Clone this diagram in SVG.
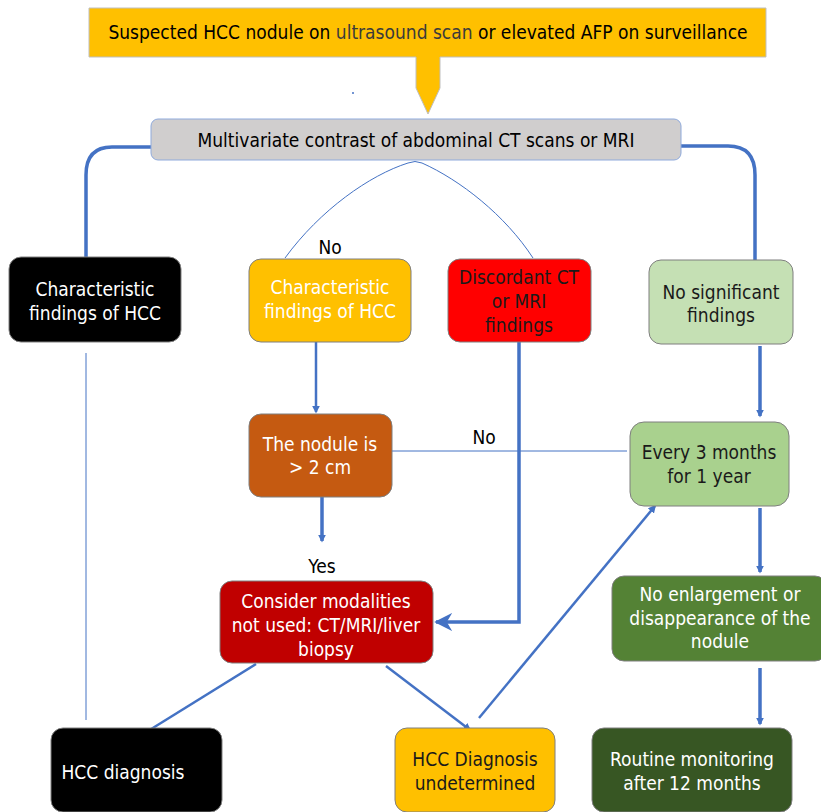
<svg xmlns="http://www.w3.org/2000/svg" width="821" height="812" viewBox="0 0 821 812">
<defs>
<style>
text{font-family:"DejaVu Sans Condensed","DejaVu Sans","Liberation Sans",sans-serif;font-stretch:condensed;font-size:19px;text-anchor:middle}
.w{fill:#fff}.k{fill:#000}.d{fill:#1a1a1a}
.box{stroke:#7f7f7f;stroke-width:1}
.c{fill:none;stroke:#4472C4}
.t1{stroke-width:1}.t2{stroke-width:2.5}.t3{stroke-width:3.5}
</style>
<marker id="ah" viewBox="0 0 10 10" refX="8" refY="5" markerWidth="8" markerHeight="8" markerUnits="userSpaceOnUse" orient="auto"><path d="M0,0L10,5L0,10z" fill="#4472C4"/></marker>
<marker id="big" viewBox="0 0 20 20" refX="18" refY="10" markerWidth="18" markerHeight="18" markerUnits="userSpaceOnUse" orient="auto"><path d="M20,10L0,0L6,10L0,20z" fill="#4472C4"/></marker>
</defs>
<rect width="821" height="812" fill="#fff"/>

<g id="connectors">
<path class="c t3" d="M151,147H112Q86,147 86,175V258"/>
<path class="c t3" d="M681,146H728Q755,146 755,175V262"/>
<path class="c t1" d="M285,258C320,210 370,175 408,163Q415,160 422,163C460,180 505,215 533,258"/>
<path class="c t2" d="M316,342V412" marker-end="url(#ah)"/>
<path class="c t3" d="M760,346V416" marker-end="url(#ah)"/>
<path class="c t1" d="M392,451H627"/>
<path class="c t3" d="M519,342V622H436" marker-end="url(#big)"/>
<path class="c t3" d="M322,497V541" marker-end="url(#ah)"/>
<path class="c t3" d="M760,508V572" marker-end="url(#ah)"/>
<path class="c t3" d="M760,668V724" marker-end="url(#ah)"/>
<path class="c t2" d="M479,718L655,506" marker-end="url(#ah)"/>
<path class="c t2" d="M256,664L148,731"/>
<path class="c t2" d="M386,666L470,730" marker-end="url(#ah)"/>
<path class="c t1" d="M86,353V720"/>
<circle cx="353" cy="93" r="1" fill="#4472C4"/>
<text x="330" y="254" class="k" font-size="16">No</text>
<text x="484" y="444" class="k" font-size="16">No</text>
<text x="322" y="573" class="k" font-size="16">Yes</text>
</g>

<g id="n-start">
<path d="M89,8H766V57H440V88L428,114L416,88V57H89Z" fill="#FFC000" stroke="#bfbfbf" stroke-width="1"/>
<text x="428" y="39"><tspan class="k">Suspected HCC nodule on </tspan><tspan fill="#3b3b3b">ultrasound scan</tspan><tspan class="k"> or elevated AFP on surveillance</tspan></text>
</g>

<g id="n-ct">
<rect x="151" y="119" width="530" height="41" rx="7" fill="#D0CECE" stroke="#8FAADC" stroke-width="1"/>
<text x="416" y="147" class="k">Multivariate contrast of abdominal CT scans or MRI</text>
</g>

<g id="n-char1">
<rect x="9" y="257" width="172" height="85" rx="12" fill="#000" class="box"/>
<text x="95" y="296" class="w">Characteristic</text>
<text x="95" y="320" class="w">findings of HCC</text>
</g>

<g id="n-char2">
<rect x="249" y="259" width="162" height="83" rx="12" fill="#FFC000" class="box"/>
<text x="330" y="294" class="w">Characteristic</text>
<text x="330" y="318" class="w">findings of HCC</text>
</g>

<g id="n-disc">
<rect x="448" y="259" width="143" height="83" rx="12" fill="#FF0000" class="box"/>
<text x="519" y="284" class="d">Discordant CT</text>
<text x="519" y="308" class="d">or MRI</text>
<text x="519" y="332" class="d">findings</text>
</g>

<g id="n-nosig">
<rect x="649" y="260" width="144" height="84" rx="12" fill="#C5E0B4" class="box"/>
<text x="721" y="299" class="d">No significant</text>
<text x="721" y="322" class="d">findings</text>
</g>

<g id="n-nodule">
<rect x="249" y="414" width="143" height="83" rx="12" fill="#C55A11" class="box"/>
<text x="320" y="451" class="w">The nodule is</text>
<text x="320" y="474" class="w">&gt; 2 cm</text>
</g>

<g id="n-every">
<rect x="630" y="422" width="159" height="84" rx="14" fill="#A9D18E" class="box"/>
<text x="709" y="459" class="d">Every 3 months</text>
<text x="709" y="483" class="d">for 1 year</text>
</g>

<g id="n-consider">
<rect x="220" y="581" width="213" height="82" rx="12" fill="#C00000" class="box"/>
<text x="326" y="608" class="w">Consider modalities</text>
<text x="326" y="632" class="w">not used: CT/MRI/liver</text>
<text x="326" y="656" class="w">biopsy</text>
</g>

<g id="n-noenl">
<rect x="612" y="576" width="215" height="85" rx="12" fill="#548235" class="box"/>
<text x="720" y="601" class="w">No enlargement or</text>
<text x="720" y="625" class="w">disappearance of the</text>
<text x="720" y="648" class="w">nodule</text>
</g>

<g id="n-hccdx">
<rect x="51" y="728" width="171" height="84" rx="12" fill="#000" class="box"/>
<text x="123" y="779" class="w">HCC diagnosis</text>
</g>

<g id="n-undet">
<rect x="395" y="728" width="160" height="84" rx="12" fill="#FFC000" class="box"/>
<text x="475" y="766" class="d">HCC Diagnosis</text>
<text x="475" y="790" class="d">undetermined</text>
</g>

<g id="n-routine">
<rect x="592" y="728" width="200" height="84" rx="12" fill="#375623" class="box"/>
<text x="692" y="766" class="w">Routine monitoring</text>
<text x="692" y="790" class="w">after 12 months</text>
</g>
</svg>
